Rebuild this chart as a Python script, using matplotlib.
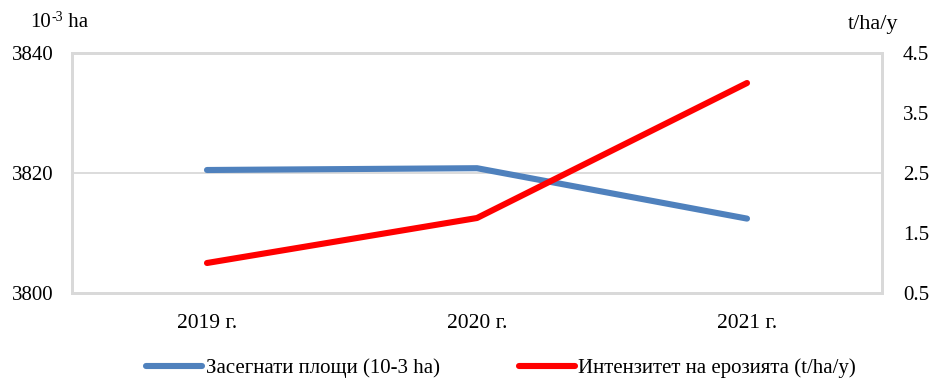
import matplotlib
matplotlib.use("Agg")
import matplotlib.pyplot as plt
from matplotlib.text import Annotation

plt.rcParams['font.family'] = ['Liberation Serif', 'DejaVu Serif']

years = ["2019 г.", "2020 г.", "2021 г."]
area = [3820.5, 3820.8, 3812.4]
intensity = [1.0, 1.75, 4.0]
area_label = "Засегнати площи (10-3 ha)"
intensity_label = "Интензитет на ерозията (t/ha/y)"
left_ticks = [3800, 3820, 3840]
right_ticks = [0.5, 1.5, 2.5, 3.5, 4.5]

blue = "#4F81BD"
red = "#FF0000"
grid_col = "#D9D9D9"

fig = plt.figure(figsize=(9.3, 3.81), dpi=100)
ax = fig.add_axes([72 / 930, 1 - 293 / 381, 810 / 930, 240 / 381])
ax2 = ax.twinx()

x = list(range(len(years)))
l1, = ax.plot(x, area, color=blue, lw=4.4, solid_capstyle='round',
              solid_joinstyle='round', label=area_label, zorder=3)
l2, = ax2.plot(x, intensity, color=red, lw=4.4, solid_capstyle='round',
               solid_joinstyle='round', label=intensity_label, zorder=3)

ax.set_xlim(-0.5, 2.5)
ax.set_ylim(3800, 3840)
ax2.set_ylim(0.5, 4.5)
ax.set_xticks(x)
ax.set_xticklabels(years, fontsize=15.5)
ax.set_yticks(left_ticks)
ax.set_yticklabels([str(v) for v in left_ticks], fontsize=15)
ax2.set_yticks(right_ticks)
ax2.set_yticklabels([f"{v:.1f}" for v in right_ticks], fontsize=15)

ax.grid(axis='y', color=grid_col, lw=1.3)
ax.tick_params(axis='both', length=0)
ax.tick_params(axis='y', pad=13)
ax.tick_params(axis='x', pad=15)
ax2.tick_params(axis='y', length=0, pad=15)
for a in (ax, ax2):
    for s in a.spines.values():
        s.set_color(grid_col)
        s.set_linewidth(2)

# left unit label: "10" with a raised "-3", then " ha" on the same baseline
t_base = fig.text(30 / 930, 1 - 27 / 381, "10", fontsize=15,
                  ha='left', va='baseline')
t_sup = fig.add_artist(Annotation(
    "-3", xy=(1, 0), xycoords=t_base, xytext=(0.5, 6), textcoords='offset points',
    fontsize=10, ha='left', va='bottom'))
fig.add_artist(Annotation(
    " ha", xy=(1, 0), xycoords=(t_sup, t_base), xytext=(0, 0),
    textcoords='offset points', fontsize=15, ha='left', va='bottom'))

fig.text(873 / 930, 1 - 24 / 381, "t/ha/y", fontsize=16,
         ha='center', va='center')

fig.legend(handles=[l1, l2], loc='center', bbox_to_anchor=(501 / 930, 1 - 368 / 381),
           ncol=2, frameon=False, fontsize=15, handlelength=2.7,
           handletextpad=0.15, columnspacing=3.8)

fig.savefig("out.png", dpi=100)
